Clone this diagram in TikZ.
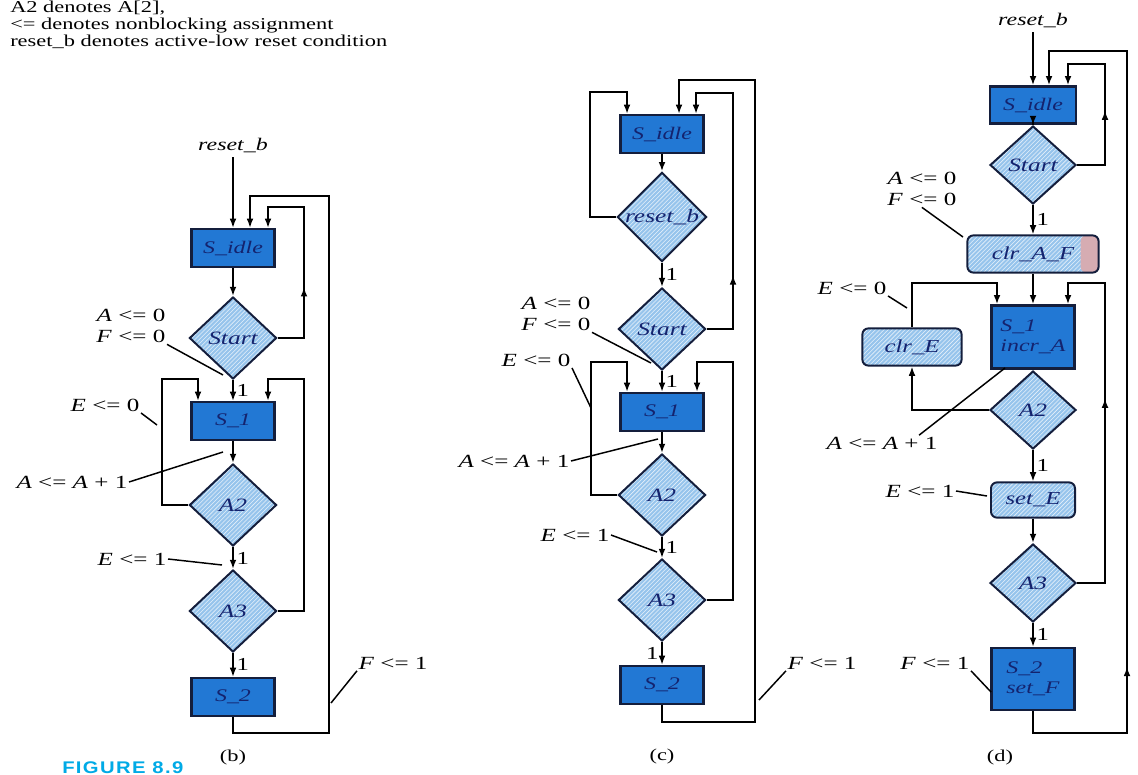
\documentclass[tikz,border=0pt]{standalone}
\usepackage{fontspec}
\setmainfont{Liberation Serif}[FakeStretch=1.35]
\newfontfamily\figfont{Liberation Sans}[FakeStretch=1.2,LetterSpace=8]
\usetikzlibrary{shapes.geometric,arrows.meta,patterns,decorations.markings}

\definecolor{darkfill}{RGB}{34,120,212}
\definecolor{lightfill}{RGB}{150,196,236}
\definecolor{boxline}{RGB}{20,30,60}
\definecolor{navytext}{RGB}{20,35,110}
\definecolor{pinkfill}{RGB}{214,172,178}
\definecolor{figcyan}{RGB}{0,170,230}

\tikzset{
    state/.style={draw=boxline, line width=1.6pt, fill=darkfill, minimum width=2.08cm,
        minimum height=0.95cm, inner sep=1pt, font=\itshape\fontsize{12.6}{14.5}\selectfont,
        text=navytext},
    test/.style={diamond, preaction={fill=lightfill}, pattern=north east lines,
        pattern color=white!75!lightfill, draw=boxline, line width=1.4pt,
        minimum width=2.18cm, minimum height=2.05cm, inner sep=0pt,
        font=\itshape\fontsize{13.4}{15}\selectfont, text=navytext},
    act/.style={rounded corners=0.15cm, preaction={fill=lightfill}, pattern=north east lines,
        pattern color=white!75!lightfill, draw=boxline, line width=1.4pt,
        minimum width=2.1cm, minimum height=0.93cm, inner sep=1pt,
        font=\itshape\fontsize{13}{15}\selectfont, text=navytext},
    flow/.style={->, line width=1.2pt},
    lead/.style={line width=1.05pt},
    lbl/.style={inner sep=1pt, font=\fontsize{13.2}{14.8}\selectfont},
    one/.style={anchor=west, inner sep=1pt, xshift=1pt, font=\fontsize{13}{15}\selectfont},
    oneleft/.style={one, anchor=east, xshift=-2pt},
    midarrow/.style={postaction={decorate, decoration={markings,
        mark=at position #1 with {\arrow{>}}}}}
}

\begin{document}
\begin{tikzpicture}[x=0.025cm, y=-0.025cm, >={Latex[length=2.3mm,width=1.7mm]},
    font=\fontsize{11.8}{13.2}\selectfont]
    \useasboundingbox (0,0) rectangle (1138,775);

    % notes
    \node[anchor=base west, inner sep=0] (note1) at (10,13) {A2 denotes A[2],};
    \node[anchor=base west, inner sep=0] (note2) at (10,30) {<= denotes nonblocking assignment};
    \node[anchor=base west, inner sep=0] (note3) at (10,47) {reset\_b denotes active-low reset condition};
    \node[anchor=north west, inner sep=0, text=figcyan,
        font=\figfont\bfseries\fontsize{12}{14}\selectfont] (figno) at (62,761) {FIGURE 8.9};

    % (b)
    \node (b-rst) at (233,145) {\itshape\fontsize{12.6}{14}\selectfont reset\_b};
    \node[state] (b-idle) at (233,248) {S\_idle};
    \node[test] (b-start) at (233,338) {Start};
    \node[state] (b-s1) at (233,421) {S\_1};
    \node[test] (b-a2) at (233,505) {A2};
    \node[test] (b-a3) at (233,611) {A3};
    \node[state] (b-s2) at (233,697) {S\_2};
    \coordinate (b-r1) at (304,207);
    \coordinate (b-r2) at (268,207);
    \coordinate (b-o1) at (329,733);
    \coordinate (b-o2) at (329,196);
    \coordinate (b-o3) at (250,196);
    \coordinate (b-l1) at (162,379);
    \coordinate (b-l2) at (198,379);
    \coordinate (b-r3) at (304,379);
    \coordinate (b-r4) at (268,379);
    \draw[flow] (b-rst) -- (b-idle);
    \draw[flow] (b-idle) -- (b-start);
    \draw[flow] (b-start) -- node[one] {1} (b-s1);
    \draw[flow] (b-s1) -- (b-a2);
    \draw[flow] (b-a2) -- node[one] {1} (b-a3);
    \draw[flow] (b-a3) -- node[one] {1} (b-s2);
    \draw[flow, midarrow=0.36] (b-start.east) -| (b-r1) -- (b-r2) -- (b-r2 |- b-idle.north);
    \draw[flow] (b-s2.south) |- (b-o1) -- (b-o2) -- (b-o3) -- (b-o3 |- b-idle.north);
    \draw[flow] (b-a2.west) -| (b-l1) -- (b-l2) -- (b-l2 |- b-s1.north);
    \draw[flow] (b-a3.east) -| (b-r3) -- (b-r4) -- (b-r4 |- b-s1.north);
    \node[lbl, align=right, anchor=east] (b-af) at (167,326) {\textit{A} <= 0\\\textit{F} <= 0};
    \node[lbl, anchor=east] (b-e0) at (141,405) {\textit{E} <= 0};
    \node[lbl, anchor=east] (b-inc) at (129,482) {\textit{A} <= \textit{A} + 1};
    \node[lbl, anchor=east] (b-e1) at (168,559) {\textit{E} <= 1};
    \node[lbl, anchor=west] (b-f1) at (357,663) {\textit{F} <= 1};
    \coordinate (b-p1) at (223,375);
    \coordinate (b-p2) at (157,425);
    \coordinate (b-p3) at (223,452);
    \coordinate (b-p4) at (222,565);
    \coordinate (b-p5) at (331,703);
    \draw[lead] (b-af.south east) -- (b-p1);
    \draw[lead] (b-e0.south east) -- (b-p2);
    \draw[lead] (b-inc.east) -- (b-p3);
    \draw[lead] (b-e1.east) -- (b-p4);
    \draw[lead] (b-f1.south west) -- (b-p5);
    \node (b-cap) at (233,758) {(b)};

    % (c)
    \node[state] (c-idle) at (662,134) {S\_idle};
    \node[test] (c-rst) at (662,217) {reset\_b};
    \node[test] (c-start) at (662,329) {Start};
    \node[state] (c-s1) at (662,412) {S\_1};
    \node[test] (c-a2) at (662,495) {A2};
    \node[test] (c-a3) at (662,600) {A3};
    \node[state] (c-s2) at (662,685) {S\_2};
    \coordinate (c-l1) at (590,92);
    \coordinate (c-l2) at (627,92);
    \coordinate (c-r1) at (733,93);
    \coordinate (c-r2) at (696,93);
    \coordinate (c-o1) at (755,722);
    \coordinate (c-o2) at (755,80);
    \coordinate (c-o3) at (679,80);
    \coordinate (c-l3) at (591,362);
    \coordinate (c-l4) at (627,362);
    \coordinate (c-r3) at (733,362);
    \coordinate (c-r4) at (697,362);
    \draw[flow] (c-idle) -- (c-rst);
    \draw[flow] (c-rst) -- node[one] {1} (c-start);
    \draw[flow] (c-start) -- node[one] {1} (c-s1);
    \draw[flow] (c-s1) -- (c-a2);
    \draw[flow] (c-a2) -- node[one] {1} (c-a3);
    \draw[flow] (c-a3) -- node[oneleft] {1} (c-s2);
    \draw[flow] (c-rst.west) -| (c-l1) -- (c-l2) -- (c-l2 |- c-idle.north);
    \draw[flow, midarrow=0.25] (c-start.east) -| (c-r1) -- (c-r2) -- (c-r2 |- c-idle.north);
    \draw[flow] (c-s2.south) |- (c-o1) -- (c-o2) -- (c-o3) -- (c-o3 |- c-idle.north);
    \draw[flow] (c-a2.west) -| (c-l3) -- (c-l4) -- (c-l4 |- c-s1.north);
    \draw[flow] (c-a3.east) -| (c-r3) -- (c-r4) -- (c-r4 |- c-s1.north);
    \node[lbl, align=right, anchor=east] (c-af) at (592,314) {\textit{A} <= 0\\\textit{F} <= 0};
    \node[lbl, anchor=east] (c-e0) at (572,360) {\textit{E} <= 0};
    \node[lbl, anchor=east] (c-inc) at (571,461) {\textit{A} <= \textit{A} + 1};
    \node[lbl, anchor=east] (c-e1) at (611,535) {\textit{E} <= 1};
    \node[lbl, anchor=west] (c-f1) at (786,663) {\textit{F} <= 1};
    \coordinate (c-p1) at (651,363);
    \coordinate (c-p2) at (591,408);
    \coordinate (c-p3) at (658,439);
    \coordinate (c-p4) at (657,552);
    \coordinate (c-p5) at (759,700);
    \draw[lead] (c-af.south east) -- (c-p1);
    \draw[lead] (c-e0.south east) -- (c-p2);
    \draw[lead] (c-inc.east) -- (c-p3);
    \draw[lead] (c-e1.east) -- (c-p4);
    \draw[lead] (c-f1.south west) -- (c-p5);
    \node (c-cap) at (662,757) {(c)};

    % (d)
    \node (d-rst) at (1033,20) {\itshape\fontsize{12.6}{14}\selectfont reset\_b};
    \node[state, minimum width=2.15cm, minimum height=0.93cm] (d-idle) at (1033,105) {S\_idle};
    \node[test, minimum width=2.15cm, minimum height=1.95cm] (d-start) at (1033,165) {Start};
    \node[act, minimum width=3.28cm, path picture={\fill[pinkfill]
        ([xshift=-0.45cm]path picture bounding box.north east) rectangle
        (path picture bounding box.south east);}] (d-clraf) at (1033,254) {clr\_A\_F};
    \node[state, minimum height=1.58cm, align=left] (d-s1) at (1033,337) {S\_1\\incr\_A};
    \node[act, minimum width=2.48cm] (d-clre) at (912,347) {clr\_E};
    \node[test, minimum width=2.15cm, minimum height=1.95cm] (d-a2) at (1033,410) {A2};
    \node[act, minimum height=0.88cm] (d-sete) at (1033,500) {set\_E};
    \node[test, minimum width=2.15cm, minimum height=1.95cm] (d-a3) at (1033,583) {A3};
    \node[state, minimum height=1.55cm, align=left] (d-s2) at (1033,679) {S\_2\\set\_F};
    \coordinate (d-r1) at (1105,64);
    \coordinate (d-r2) at (1068,64);
    \coordinate (d-o1) at (1127,733);
    \coordinate (d-o2) at (1127,51);
    \coordinate (d-o3) at (1049,51);
    \coordinate (d-l2) at (997,283);
    \coordinate (d-r3) at (1105,283);
    \coordinate (d-r4) at (1068,283);
    \draw[flow] (d-rst) -- (d-idle);
    \draw[flow] (d-idle) -- (d-start);
    \draw[flow] (d-start) -- node[one] {1} (d-clraf);
    \draw[flow] (d-clraf) -- (d-s1);
    \draw[flow] (d-a2) -- node[one] {1} (d-sete);
    \draw[flow] (d-sete) -- (d-a3);
    \draw[flow] (d-a3) -- node[one] {1} (d-s2);
    \draw[flow, midarrow=0.44] (d-start.east) -| (d-r1) -- (d-r2) -- (d-r2 |- d-idle.north);
    \draw[flow, midarrow=0.2] (d-s2.south) |- (d-o1) -- (d-o2) -- (d-o3) -- (d-o3 |- d-idle.north);
    \draw[flow] (d-a2.west) -| (d-clre.south);
    \draw[flow] (d-clre.north) |- (d-l2) -- (d-l2 |- d-s1.north);
    \draw[flow, midarrow=0.55] (d-a3.east) -| (d-r3) -- (d-r4) -- (d-r4 |- d-s1.north);
    \node[lbl, align=right, anchor=east] (d-af) at (958,189) {\textit{A} <= 0\\\textit{F} <= 0};
    \node[lbl, anchor=east] (d-e0) at (888,288) {\textit{E} <= 0};
    \node[lbl] (d-inc) at (882,443) {\textit{A} <= \textit{A} + 1};
    \node[lbl, anchor=east] (d-e1) at (956,491) {\textit{E} <= 1};
    \node[lbl, anchor=east] (d-f1) at (971,663) {\textit{F} <= 1};
    \coordinate (d-p1) at (963,237);
    \coordinate (d-p2) at (907,308);
    \coordinate (d-p3) at (1005,368);
    \coordinate (d-p4) at (987,496);
    \coordinate (d-p5) at (991,692);
    \draw[lead] (d-af.south) -- (d-p1);
    \draw[lead] (d-e0.south east) -- (d-p2);
    \draw[lead] ([xshift=-0.5cm]d-inc.north east) -- (d-p3);
    \draw[lead] (d-e1.east) -- (d-p4);
    \draw[lead] (d-f1.south east) -- (d-p5);
    \node (d-cap) at (1000,758) {(d)};
\end{tikzpicture}
\end{document}
